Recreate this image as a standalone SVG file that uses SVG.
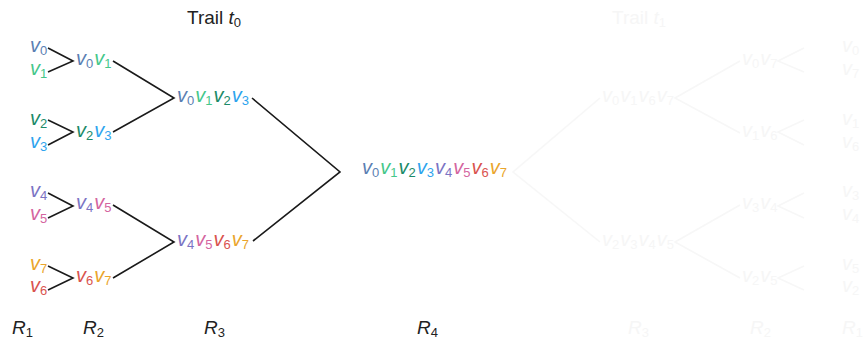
<svg xmlns="http://www.w3.org/2000/svg" width="863" height="342" viewBox="0 0 863 342">
  <style>
    text { font-family: "Liberation Sans", Arial, sans-serif; }
    .v { font-size: 20px; font-style: italic; }
    .s { font-size: 13px; font-style: normal; }
    .lbl { font-size: 19px; fill: #222; }
    .it { font-style: italic; }
    .c0 { fill: #5b7fb3; }
    .c1 { fill: #45c78a; }
    .c2 { fill: #1b8a68; }
    .c3 { fill: #2ea4ee; }
    .c4 { fill: #7b74c4; }
    .c5 { fill: #d465a0; }
    .c6 { fill: #d9534f; }
    .c7 { fill: #eaa52c; }
    .edge { fill: none; stroke: #1a1a1a; stroke-width: 1.6; }
    .ghost text, .ghost tspan { fill: #f6f6f6; }
    .ghost .edge { stroke: #f7f7f7; }
  </style>

  <!-- titles and round labels -->
  <g id="titles">
    <text class="lbl" x="187" y="24">Trail <tspan class="it">t</tspan><tspan class="s" dy="3">0</tspan></text>
    <text class="lbl it" x="12" y="334">R<tspan class="s" dy="3">1</tspan></text>
    <text class="lbl it" x="83" y="334">R<tspan class="s" dy="3">2</tspan></text>
    <text class="lbl it" x="204" y="334">R<tspan class="s" dy="3">3</tspan></text>
    <text class="lbl it" x="417" y="334">R<tspan class="s" dy="3">4</tspan></text>
  </g>

  <!-- connectors of the merging tree -->
  <g id="connectors">
    <polyline class="edge" points="48,48 73,61 48,72"/>
    <polyline class="edge" points="48,120 73,132 48,145"/>
    <polyline class="edge" points="48,193 73,206 48,218"/>
    <polyline class="edge" points="48,266 73,278 48,290"/>
    <polyline class="edge" points="113,61 174,98 113,132"/>
    <polyline class="edge" points="113,205 174,242 113,278"/>
    <polyline class="edge" points="252,98 340,172 253,241"/>
  </g>

  <!-- round 1 leaves -->
  <g id="leaf-v0"><text class="v" x="30" y="52"><tspan class="c0">v</tspan><tspan class="s c0" dy="3">0</tspan></text></g>
  <g id="leaf-v1"><text class="v" x="30" y="75"><tspan class="c1">v</tspan><tspan class="s c1" dy="3">1</tspan></text></g>
  <g id="leaf-v2"><text class="v" x="30" y="125"><tspan class="c2">v</tspan><tspan class="s c2" dy="3">2</tspan></text></g>
  <g id="leaf-v3"><text class="v" x="30" y="148"><tspan class="c3">v</tspan><tspan class="s c3" dy="3">3</tspan></text></g>
  <g id="leaf-v4"><text class="v" x="30" y="197"><tspan class="c4">v</tspan><tspan class="s c4" dy="3">4</tspan></text></g>
  <g id="leaf-v5"><text class="v" x="30" y="220"><tspan class="c5">v</tspan><tspan class="s c5" dy="3">5</tspan></text></g>
  <g id="leaf-v7"><text class="v" x="30" y="270"><tspan class="c7">v</tspan><tspan class="s c7" dy="3">7</tspan></text></g>
  <g id="leaf-v6"><text class="v" x="30" y="292"><tspan class="c6">v</tspan><tspan class="s c6" dy="3">6</tspan></text></g>

  <!-- round 2 pairs -->
  <g id="pair-v0v1"><text class="v" x="76" y="65"><tspan class="c0">v</tspan><tspan class="s c0" dy="3">0</tspan><tspan class="c1" dy="-3" dx="1">v</tspan><tspan class="s c1" dy="3">1</tspan></text></g>
  <g id="pair-v2v3"><text class="v" x="76" y="137"><tspan class="c2">v</tspan><tspan class="s c2" dy="3">2</tspan><tspan class="c3" dy="-3" dx="1">v</tspan><tspan class="s c3" dy="3">3</tspan></text></g>
  <g id="pair-v4v5"><text class="v" x="76" y="209"><tspan class="c4">v</tspan><tspan class="s c4" dy="3">4</tspan><tspan class="c5" dy="-3" dx="1">v</tspan><tspan class="s c5" dy="3">5</tspan></text></g>
  <g id="pair-v6v7"><text class="v" x="76" y="282"><tspan class="c6">v</tspan><tspan class="s c6" dy="3">6</tspan><tspan class="c7" dy="-3" dx="1">v</tspan><tspan class="s c7" dy="3">7</tspan></text></g>

  <!-- round 3 quads -->
  <g id="quad-v0-v3"><text class="v" x="177" y="102"><tspan class="c0">v</tspan><tspan class="s c0" dy="3">0</tspan><tspan class="c1" dy="-3" dx="1">v</tspan><tspan class="s c1" dy="3">1</tspan><tspan class="c2" dy="-3" dx="1">v</tspan><tspan class="s c2" dy="3">2</tspan><tspan class="c3" dy="-3" dx="1">v</tspan><tspan class="s c3" dy="3">3</tspan></text></g>
  <g id="quad-v4-v7"><text class="v" x="177" y="246"><tspan class="c4">v</tspan><tspan class="s c4" dy="3">4</tspan><tspan class="c5" dy="-3" dx="1">v</tspan><tspan class="s c5" dy="3">5</tspan><tspan class="c6" dy="-3" dx="1">v</tspan><tspan class="s c6" dy="3">6</tspan><tspan class="c7" dy="-3" dx="1">v</tspan><tspan class="s c7" dy="3">7</tspan></text></g>

  <!-- round 4: all eight -->
  <g id="all-v0-v7"><text class="v" x="362" y="174"><tspan class="c0">v</tspan><tspan class="s c0" dy="3">0</tspan><tspan class="c1" dy="-3" dx="1">v</tspan><tspan class="s c1" dy="3">1</tspan><tspan class="c2" dy="-3" dx="1">v</tspan><tspan class="s c2" dy="3">2</tspan><tspan class="c3" dy="-3" dx="1">v</tspan><tspan class="s c3" dy="3">3</tspan><tspan class="c4" dy="-3" dx="1">v</tspan><tspan class="s c4" dy="3">4</tspan><tspan class="c5" dy="-3" dx="1">v</tspan><tspan class="s c5" dy="3">5</tspan><tspan class="c6" dy="-3" dx="1">v</tspan><tspan class="s c6" dy="3">6</tspan><tspan class="c7" dy="-3" dx="1">v</tspan><tspan class="s c7" dy="3">7</tspan></text></g>

  <!-- second trail, drawn faded -->
  <g class="ghost" id="trail-t1">
    <g id="titles-t1">
      <text class="lbl" x="612" y="24">Trail <tspan class="it">t</tspan><tspan class="s" dy="3">1</tspan></text>
      <text class="lbl it" x="628" y="334">R<tspan class="s" dy="3">3</tspan></text>
      <text class="lbl it" x="750" y="334">R<tspan class="s" dy="3">2</tspan></text>
      <text class="lbl it" x="842" y="334">R<tspan class="s" dy="3">1</tspan></text>
    </g>
    <g id="connectors-t1">
      <polyline class="edge" points="600,98 513,172 600,242"/>
      <polyline class="edge" points="740,61 675,98 740,133"/>
      <polyline class="edge" points="740,205 675,242 740,278"/>
      <polyline class="edge" points="804,48 778,61 804,72"/>
      <polyline class="edge" points="804,120 778,132 804,145"/>
      <polyline class="edge" points="804,193 778,206 804,218"/>
      <polyline class="edge" points="804,266 778,278 804,290"/>
    </g>
    <g id="t1-quad-a"><text class="v" x="602" y="102">v<tspan class="s" dy="3">0</tspan><tspan dy="-3" dx="1">v</tspan><tspan class="s" dy="3">1</tspan><tspan dy="-3" dx="1">v</tspan><tspan class="s" dy="3">6</tspan><tspan dy="-3" dx="1">v</tspan><tspan class="s" dy="3">7</tspan></text></g>
    <g id="t1-quad-b"><text class="v" x="602" y="246">v<tspan class="s" dy="3">2</tspan><tspan dy="-3" dx="1">v</tspan><tspan class="s" dy="3">3</tspan><tspan dy="-3" dx="1">v</tspan><tspan class="s" dy="3">4</tspan><tspan dy="-3" dx="1">v</tspan><tspan class="s" dy="3">5</tspan></text></g>
    <g id="t1-pair-v0v7"><text class="v" x="742" y="65">v<tspan class="s" dy="3">0</tspan><tspan dy="-3" dx="1">v</tspan><tspan class="s" dy="3">7</tspan></text></g>
    <g id="t1-pair-v1v6"><text class="v" x="742" y="137">v<tspan class="s" dy="3">1</tspan><tspan dy="-3" dx="1">v</tspan><tspan class="s" dy="3">6</tspan></text></g>
    <g id="t1-pair-v3v4"><text class="v" x="742" y="209">v<tspan class="s" dy="3">3</tspan><tspan dy="-3" dx="1">v</tspan><tspan class="s" dy="3">4</tspan></text></g>
    <g id="t1-pair-v2v5"><text class="v" x="742" y="282">v<tspan class="s" dy="3">2</tspan><tspan dy="-3" dx="1">v</tspan><tspan class="s" dy="3">5</tspan></text></g>
    <g id="t1-leaves">
      <text class="v" x="842" y="52">v<tspan class="s" dy="3">0</tspan></text>
      <text class="v" x="842" y="75">v<tspan class="s" dy="3">7</tspan></text>
      <text class="v" x="842" y="125">v<tspan class="s" dy="3">1</tspan></text>
      <text class="v" x="842" y="148">v<tspan class="s" dy="3">6</tspan></text>
      <text class="v" x="842" y="197">v<tspan class="s" dy="3">3</tspan></text>
      <text class="v" x="842" y="220">v<tspan class="s" dy="3">4</tspan></text>
      <text class="v" x="842" y="270">v<tspan class="s" dy="3">5</tspan></text>
      <text class="v" x="842" y="292">v<tspan class="s" dy="3">2</tspan></text>
    </g>
  </g>
</svg>
